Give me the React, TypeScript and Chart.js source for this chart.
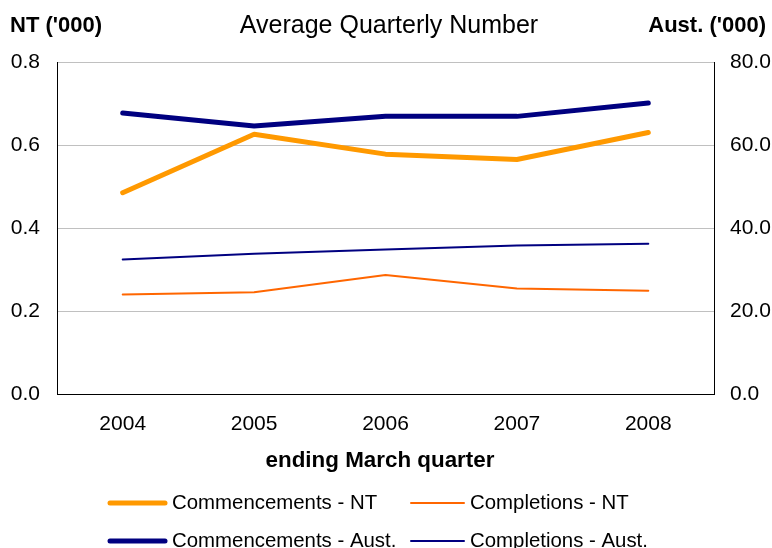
import React, { useEffect, useRef } from "react";
import { Chart, registerables } from "chart.js";

Chart.register(...registerables);

const categories = ["2004", "2005", "2006", "2007", "2008"];
const commencementsNT = [0.485, 0.626, 0.578, 0.565, 0.63];
const completionsNT = [0.24, 0.245, 0.287, 0.254, 0.249];
const commencementsAust = [67.7, 64.6, 66.9, 66.9, 70.1];
const completionsAust = [32.4, 33.8, 34.8, 35.8, 36.2];

const chartTitle = "Average Quarterly Number";
const leftUnit = "NT ('000)";
const rightUnit = "Aust. ('000)";
const xTitle = "ending March quarter";

const FONT = '"Liberation Sans", Arial, sans-serif';

const textPlugin = {
  id: "textPlugin",
  afterDraw(chart: any) {
    const ctx = chart.ctx;
    ctx.save();
    ctx.fillStyle = "#000";
    ctx.textBaseline = "middle";
    ctx.font = `bold 22px ${FONT}`;
    ctx.textAlign = "left";
    ctx.fillText(leftUnit, 10, 26);
    ctx.textAlign = "right";
    ctx.fillText(rightUnit, 766, 26);
    ctx.font = `25px ${FONT}`;
    ctx.textAlign = "center";
    ctx.fillText(chartTitle, 389, 26);
    ctx.font = `bold 22.4px ${FONT}`;
    ctx.fillText(xTitle, 380, 461);

    // legend grid
    const lineStart = [110, 411];
    const lineEnd = [165, 464];
    const textX = [172, 470];
    const rowY = [503, 541];
    chart.data.datasets.forEach((ds: any, i: number) => {
      const col = i % 2;
      const row = Math.floor(i / 2);
      const y = rowY[row];
      ctx.beginPath();
      ctx.strokeStyle = ds.borderColor;
      ctx.lineWidth = ds.borderWidth;
      ctx.lineCap = "round";
      ctx.moveTo(lineStart[col], y);
      ctx.lineTo(lineEnd[col], y);
      ctx.stroke();
      ctx.fillStyle = "#000";
      ctx.font = `20.4px ${FONT}`;
      ctx.textAlign = "left";
      ctx.fillText(ds.label, textX[col], y);
    });
    ctx.restore();
  },
};

export default function App() {
  const ref = useRef<HTMLCanvasElement | null>(null);
  useEffect(() => {
    if (!ref.current) return;
    const chart = new Chart(ref.current, {
      type: "line",
      data: {
        labels: categories,
        datasets: [
          {
            label: "Commencements - NT",
            data: commencementsNT,
            borderColor: "#FF9900",
            backgroundColor: "#FF9900",
            borderWidth: 5,
            yAxisID: "y",
          },
          {
            label: "Completions - NT",
            data: completionsNT,
            borderColor: "#FF6600",
            backgroundColor: "#FF6600",
            borderWidth: 2,
            yAxisID: "y",
          },
          {
            label: "Commencements - Aust.",
            data: commencementsAust,
            borderColor: "#000080",
            backgroundColor: "#000080",
            borderWidth: 5,
            yAxisID: "y1",
          },
          {
            label: "Completions - Aust.",
            data: completionsAust,
            borderColor: "#000080",
            backgroundColor: "#000080",
            borderWidth: 2,
            yAxisID: "y1",
          },
        ],
      },
      options: {
        responsive: false,
        animation: false,
        devicePixelRatio: 1,
        layout: { padding: { top: 62, left: 0, right: 0, bottom: 0 } },
        elements: {
          point: { radius: 0, hoverRadius: 0 },
          line: { tension: 0, borderCapStyle: "round", borderJoinStyle: "round" },
        },
        plugins: {
          legend: { display: false },
          title: { display: false },
          tooltip: { enabled: false },
        },
        scales: {
          x: {
            type: "category",
            offset: true,
            grid: { display: false, drawTicks: false },
            border: { display: true, color: "#000", width: 1 },
            ticks: { color: "#000", font: { family: FONT, size: 21 }, padding: 18, maxRotation: 0 },
            afterFit(scale: any) {
              scale.height = 154;
            },
          },
          y: {
            position: "left",
            min: 0,
            max: 0.8,
            ticks: {
              stepSize: 0.2,
              color: "#000",
              font: { family: FONT, size: 21 },
              padding: 17,
              callback: (v: any) => Number(v).toFixed(1),
            },
            grid: {
              drawTicks: false,
              color: (c: any) => (c.tick && c.tick.value === 0 ? "rgba(0,0,0,0)" : "#c0c0c0"),
              lineWidth: 1,
            },
            border: { display: true, color: "#000", width: 1 },
            afterFit(scale: any) {
              scale.width = 57;
            },
          },
          y1: {
            position: "right",
            min: 0,
            max: 80,
            ticks: {
              stepSize: 20,
              color: "#000",
              font: { family: FONT, size: 21 },
              padding: 16,
              callback: (v: any) => Number(v).toFixed(1),
            },
            grid: { display: false, drawTicks: false },
            border: { display: true, color: "#000", width: 1 },
            afterFit(scale: any) {
              scale.width = 58;
            },
          },
        },
      },
      plugins: [textPlugin],
    } as any);
    return () => chart.destroy();
  }, []);
  return (
    <div style={{ position: "fixed", left: 0, top: 0, width: 772, height: 548, background: "#fff" }}>
      <canvas ref={ref} width={772} height={548} style={{ display: "block" }} />
    </div>
  );
}
